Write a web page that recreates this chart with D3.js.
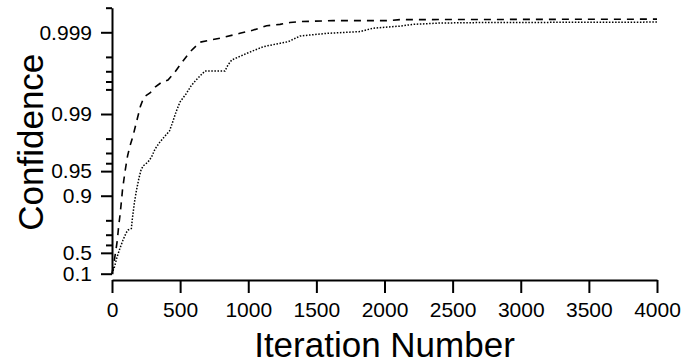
<!DOCTYPE html>
<html><head><meta charset="utf-8">
<script src="https://cdn.jsdelivr.net/npm/d3@7"></script>
<style>
body{margin:0;background:#fff}
svg{display:block;background:#fff}
text{font-family:"Liberation Sans",Arial,Helvetica,sans-serif;fill:#000}
</style>
</head><body>
<svg id="c" width="685" height="362"></svg>
<script>
// ---- data ----
const iterDashed = [0, 15, 29, 39, 49, 59, 70, 77, 95, 114, 132, 154, 187, 209, 235, 279, 316, 367, 411, 462, 521, 572, 646, 793, 939, 1037, 1135, 1233, 1306, 1380, 1622, 2016, 2114, 4000];
const confDashed = [0.1, 0.35, 0.54, 0.65, 0.765, 0.828, 0.887, 0.915, 0.9487, 0.9673, 0.9754, 0.9814, 0.9888, 0.992, 0.99381, 0.99447, 0.99533, 0.99594, 0.99616, 0.99694, 0.99776, 0.99826, 0.99868, 0.99882, 0.99897, 0.99906, 0.99917, 0.9992, 0.99924, 0.99926, 0.99928, 0.99928, 0.9993, 0.99931];
const iterDotted = [0, 18, 37, 59, 81, 103, 117, 142, 150, 165, 180, 198, 213, 228, 264, 290, 316, 352, 389, 422, 440, 470, 499, 543, 580, 617, 653, 683, 829, 851, 879, 989, 1110, 1294, 1380, 1576, 1820, 1918, 2114, 2209, 2407, 2701, 4000];
const confDotted = [0.1, 0.254, 0.437, 0.563, 0.652, 0.714, 0.737, 0.748, 0.8125, 0.8806, 0.915, 0.9393, 0.9516, 0.9567, 0.9613, 0.9664, 0.9732, 0.978, 0.9814, 0.9839, 0.9867, 0.99055, 0.99287, 0.99431, 0.99546, 0.99616, 0.99667, 0.99702, 0.99702, 0.99749, 0.99782, 0.99819, 0.9985, 0.9987, 0.99889, 0.99897, 0.99902, 0.99911, 0.99916, 0.9992, 0.99923, 0.99924, 0.99925];

const xTicks = [0, 500, 1000, 1500, 2000, 2500, 3000, 3500, 4000];
const yMajorTicks = [0.1, 0.5, 0.9, 0.95, 0.99, 0.999];
const yMajorLabels = ["0.1", "0.5", "0.9", "0.95", "0.99", "0.999"];
const yMinorTicks = [0.6, 0.7, 0.8, 0.96, 0.97, 0.98, 0.995, 0.996, 0.997, 0.998, 0.9995];
const xTitle = "Iteration Number";
const yTitle = "Confidence";

// ---- drawing ----
const svg = d3.select("#c");
const x = d3.scaleLinear().domain([0, 4000]).range([112, 657]);
// confidence axis: logarithmic in (1 - confidence)
const yLog = d3.scaleLog().domain([0.9, 0.0005]).range([273.7, 7.7]);
const y = p => yLog(1 - p);

// y axis (major)
const gy = svg.append("g").attr("transform", "translate(112,0)")
  .call(d3.axisLeft(yLog)
    .tickValues(yMajorTicks.map(p => 1 - p))
    .tickFormat((d, i) => yMajorLabels[i])
    .tickSize(11).tickSizeOuter(0).tickPadding(9));
// y axis (minor)
const gym = svg.append("g").attr("transform", "translate(112,0)")
  .call(d3.axisLeft(yLog)
    .tickValues(yMinorTicks.map(p => 1 - p))
    .tickFormat("")
    .tickSize(6).tickSizeOuter(0));
gym.select(".domain").remove();

// x axis
const gx = svg.append("g").attr("transform", "translate(0,280)")
  .call(d3.axisBottom(x).tickValues(xTicks).tickFormat(d3.format("d"))
    .tickSize(13).tickSizeOuter(0).tickPadding(9));

[gy, gym, gx].forEach(g => {
  g.attr("font-size", 21).attr("font-family", '"Liberation Sans", Arial, Helvetica, sans-serif');
  g.selectAll("path,line").attr("stroke", "#000").attr("stroke-width", 2);
  g.selectAll("text").attr("fill", "#000");
});

// lines
const line = d3.line().x(d => x(d[0])).y(d => y(d[1]));
svg.append("path")
  .datum(iterDashed.map((v, i) => [v, confDashed[i]]))
  .attr("d", line).attr("fill", "none").attr("stroke", "#000")
  .attr("stroke-width", 1.6).attr("stroke-dasharray", "7,6");
svg.append("path")
  .datum(iterDotted.map((v, i) => [v, confDotted[i]]))
  .attr("d", line).attr("fill", "none").attr("stroke", "#000")
  .attr("stroke-width", 1.5).attr("stroke-dasharray", "1.5,1.6");

// titles
svg.append("text").attr("x", 384.5).attr("y", 356.5)
  .attr("text-anchor", "middle").attr("font-size", 35).text(xTitle);
svg.append("text").attr("transform", "translate(42.5,142.2) rotate(-90)")
  .attr("text-anchor", "middle").attr("font-size", 35).text(yTitle);
</script>
</body></html>
